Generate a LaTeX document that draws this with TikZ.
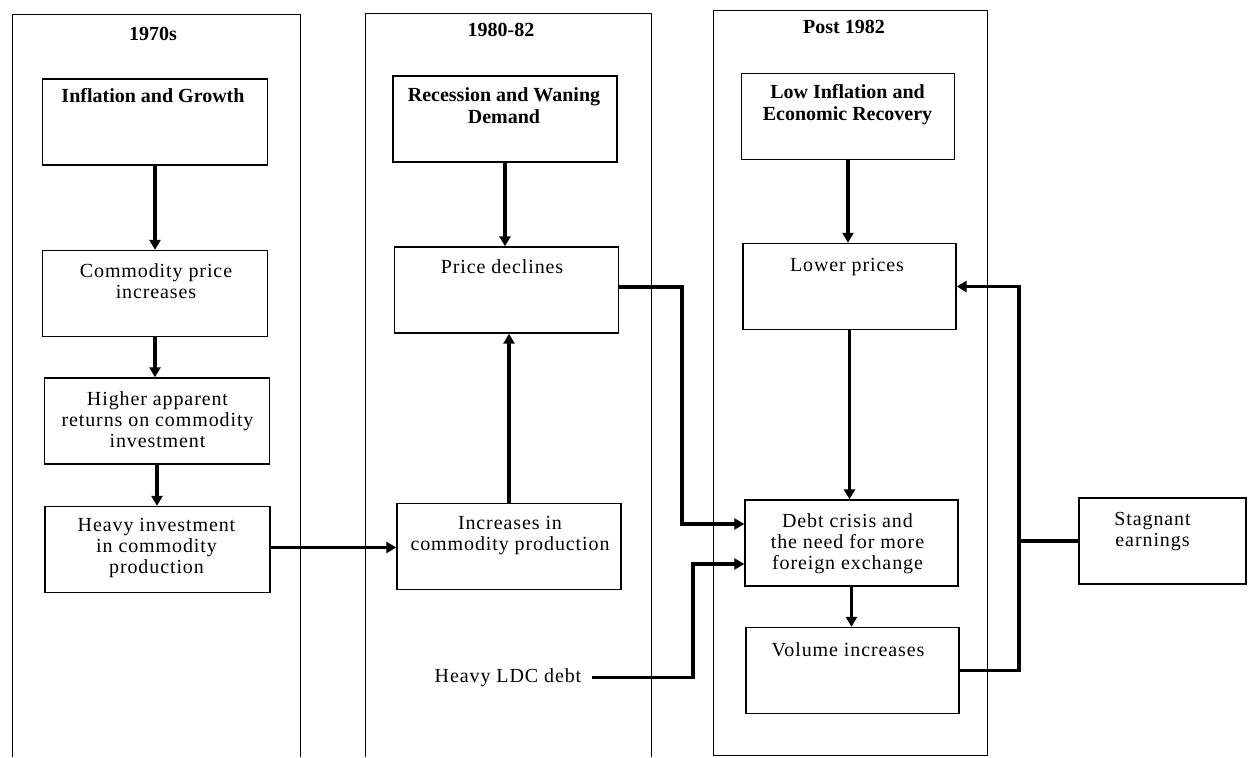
\documentclass[tikz,border=0pt]{standalone}
\usepackage{fontspec}
\setmainfont{Liberation Serif}
\newfontfamily\spc{Liberation Serif}[LetterSpace=4.5]
\usetikzlibrary{arrows.meta}
\begin{document}
\begin{tikzpicture}[x=0.5pt,y=-0.5pt,
  panel/.style={line width=0.5pt},
  bx/.style={draw, line width=0.7pt, inner sep=0pt, minimum height=43pt},
  c1/.style={bx, minimum width=112.5pt},
  c2/.style={bx, minimum width=112pt},
  c3/.style={bx, minimum width=106.5pt},
  txt/.style={anchor=north, inner sep=0pt, align=center, font=\spc\fontsize{10}{10.5}\selectfont},
  head/.style={anchor=north, inner sep=0pt, align=center, font=\bfseries\fontsize{10}{11}\selectfont},
  arr/.style={line width=1.8pt, -{Triangle[length=5pt,width=5.5pt]}},
  ln/.style={line width=1.8pt},
]
\useasboundingbox (0,0) rectangle (1248,757);

% period panels
\draw[panel] (12,757) |- (300,14) -- (300,757);
\draw[panel] (365,757) |- (651,13) -- (651,757);
\draw[panel] (713,10) rectangle (987,755);

\node[head] (t1) at (153,27) {1970s};
\node[head] (t2) at (501,23) {1980-82};
\node[head] (t3) at (844,20) {Post 1982};

% boxes
\node[c1] (ig) at (155,122) {};
\node[c1] (cp) at (155,293.5) {};
\node[c1] (ha) at (157,421) {};
\node[c1] (hi) at (157.5,549.5) {};
\node[c2] (rw) at (505,119) {};
\node[c2] (pd) at (506.5,290) {};
\node[c2] (ic) at (509,546.5) {};
\node[c3] (li) at (848,116.5) {};
\node[c3] (lp) at (849.5,286.5) {};
\node[c3] (dc) at (851.5,543) {};
\node[c3] (vi) at (852.5,670.5) {};
\node[bx, minimum width=83.5pt] (se) at (1162.5,541) {};

% texts
\node[head] (igt) at (153,88) {Inflation and Growth};
\node[txt] (cpt) at (156,263) {Commodity price\\increases};
\node[txt] (hat) at (157.5,391) {Higher apparent\\returns on commodity\\investment};
\node[txt] (hit) at (156.5,518) {Heavy investment\\in commodity\\production};
\node[head] (rwt) at (504,87) {Recession and Waning\\Demand};
\node[txt] (pdt) at (502,259) {Price declines};
\node[txt] (ict) at (510,516) {Increases in\\commodity production};
\node[head] (lit) at (847.5,84) {Low Inflation and\\Economic Recovery};
\node[txt] (lpt) at (847,258) {Lower prices};
\node[txt] (dct) at (847.5,513) {Debt crisis and\\the need for more\\foreign exchange};
\node[txt] (vit) at (848,642) {Volume increases};
\node[txt] (set) at (1152.5,512) {Stagnant\\earnings};
\node[txt] (ldc) at (508,668) {Heavy LDC debt};

% connectors
\coordinate (j1) at (682,0);
\coordinate (j2) at (683,0);
\coordinate (j3) at (1019,0);

\draw[arr] (ig.south) -- (ig.south |- cp.north);
\draw[arr] (cp.south) -- (cp.south |- ha.north);
\draw[arr] (ha.south) -- (ha.south |- hi.north);
\draw[arr] ([yshift=1pt]hi.east) -- ([yshift=1pt]hi.east -| ic.west);
\draw[arr] (rw.south) -- (rw.south |- pd.north);
\draw[arr] (ic.north) -- (ic.north |- pd.south);
\draw[arr] (li.south) -- (li.south |- lp.north);
\draw[arr] (lp.south) -- (lp.south |- dc.north);
\draw[arr] (dc.south) -- (dc.south |- vi.north);
\draw[arr] ([yshift=1.5pt]pd.east) -- ([yshift=1.5pt]pd.east -| j1) |- ([yshift=9.5pt]dc.west);
\draw[arr] ([xshift=5pt]ldc.east) -- ([xshift=5pt]ldc.east -| j2) |- ([yshift=-10.5pt]dc.west);
\draw[arr] (vi.east) -- (vi.east -| j3) |- (lp.east);
\draw[ln] (se.west) -- (se.west -| j3);
\end{tikzpicture}
\end{document}
